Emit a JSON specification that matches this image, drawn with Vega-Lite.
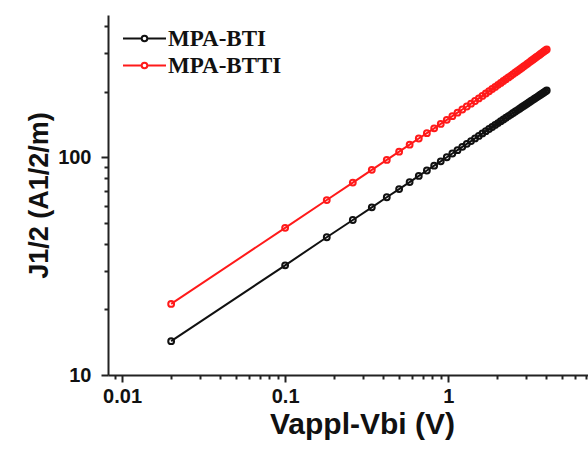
{
 "$schema": "https://vega.github.io/schema/vega-lite/v6.json",
 "width": 481,
 "height": 360,
 "padding": {"left": 25, "top": 15, "right": 0, "bottom": 5},
 "background": "white",
 "config": {"view": {"stroke": null}, "font": "Liberation Sans"},
 "datasets": {
  "bti": [
   {"s":"MPA-BTI","v":0.02,"j":14.3},{"s":"MPA-BTI","v":0.10,"j":31.9},{"s":"MPA-BTI","v":0.18,"j":42.9},{"s":"MPA-BTI","v":0.26,"j":51.5},{"s":"MPA-BTI","v":0.34,"j":58.9},{"s":"MPA-BTI","v":0.42,"j":65.5},{"s":"MPA-BTI","v":0.50,"j":71.4},{"s":"MPA-BTI","v":0.58,"j":76.9},{"s":"MPA-BTI","v":0.66,"j":82.1},{"s":"MPA-BTI","v":0.74,"j":86.9},
   {"s":"MPA-BTI","v":0.82,"j":91.5},{"s":"MPA-BTI","v":0.90,"j":95.8},{"s":"MPA-BTI","v":0.98,"j":100.0},{"s":"MPA-BTI","v":1.06,"j":104.0},{"s":"MPA-BTI","v":1.14,"j":107.8},{"s":"MPA-BTI","v":1.22,"j":111.6},{"s":"MPA-BTI","v":1.30,"j":115.2},{"s":"MPA-BTI","v":1.38,"j":118.6},{"s":"MPA-BTI","v":1.46,"j":122.0},{"s":"MPA-BTI","v":1.54,"j":125.3},
   {"s":"MPA-BTI","v":1.62,"j":128.6},{"s":"MPA-BTI","v":1.70,"j":131.7},{"s":"MPA-BTI","v":1.78,"j":134.8},{"s":"MPA-BTI","v":1.86,"j":137.7},{"s":"MPA-BTI","v":1.94,"j":140.7},{"s":"MPA-BTI","v":2.02,"j":143.5},{"s":"MPA-BTI","v":2.10,"j":146.4},{"s":"MPA-BTI","v":2.18,"j":149.1},{"s":"MPA-BTI","v":2.26,"j":151.8},{"s":"MPA-BTI","v":2.34,"j":154.5},
   {"s":"MPA-BTI","v":2.42,"j":157.1},{"s":"MPA-BTI","v":2.50,"j":159.7},{"s":"MPA-BTI","v":2.58,"j":162.2},{"s":"MPA-BTI","v":2.66,"j":164.7},{"s":"MPA-BTI","v":2.74,"j":167.2},{"s":"MPA-BTI","v":2.82,"j":169.6},{"s":"MPA-BTI","v":2.90,"j":172.0},{"s":"MPA-BTI","v":2.98,"j":174.4},{"s":"MPA-BTI","v":3.06,"j":176.7},{"s":"MPA-BTI","v":3.14,"j":179.0},
   {"s":"MPA-BTI","v":3.22,"j":181.2},{"s":"MPA-BTI","v":3.30,"j":183.5},{"s":"MPA-BTI","v":3.38,"j":185.7},{"s":"MPA-BTI","v":3.46,"j":187.9},{"s":"MPA-BTI","v":3.54,"j":190.0},{"s":"MPA-BTI","v":3.62,"j":192.2},{"s":"MPA-BTI","v":3.70,"j":194.3},{"s":"MPA-BTI","v":3.78,"j":196.4},{"s":"MPA-BTI","v":3.86,"j":198.4},{"s":"MPA-BTI","v":3.94,"j":200.5},
   {"s":"MPA-BTI","v":4.02,"j":202.5}
  ],
  "btti": [
   {"s":"MPA-BTTI","v":0.02,"j":21.2},{"s":"MPA-BTTI","v":0.10,"j":47.4},{"s":"MPA-BTTI","v":0.18,"j":63.6},{"s":"MPA-BTTI","v":0.26,"j":76.5},{"s":"MPA-BTTI","v":0.34,"j":87.5},{"s":"MPA-BTTI","v":0.42,"j":97.2},{"s":"MPA-BTTI","v":0.50,"j":106.1},{"s":"MPA-BTTI","v":0.58,"j":114.2},{"s":"MPA-BTTI","v":0.66,"j":121.9},{"s":"MPA-BTTI","v":0.74,"j":129.0},
   {"s":"MPA-BTTI","v":0.82,"j":135.8},{"s":"MPA-BTTI","v":0.90,"j":142.3},{"s":"MPA-BTTI","v":0.98,"j":148.5},{"s":"MPA-BTTI","v":1.06,"j":154.4},{"s":"MPA-BTTI","v":1.14,"j":160.2},{"s":"MPA-BTTI","v":1.22,"j":165.7},{"s":"MPA-BTTI","v":1.30,"j":171.0},{"s":"MPA-BTTI","v":1.38,"j":176.2},{"s":"MPA-BTTI","v":1.46,"j":181.2},{"s":"MPA-BTTI","v":1.54,"j":186.3},
   {"s":"MPA-BTTI","v":1.62,"j":191.3},{"s":"MPA-BTTI","v":1.70,"j":196.2},{"s":"MPA-BTTI","v":1.78,"j":201.0},{"s":"MPA-BTTI","v":1.86,"j":205.8},{"s":"MPA-BTTI","v":1.94,"j":210.4},{"s":"MPA-BTTI","v":2.02,"j":215.0},{"s":"MPA-BTTI","v":2.10,"j":219.5},{"s":"MPA-BTTI","v":2.18,"j":223.9},{"s":"MPA-BTTI","v":2.26,"j":228.3},{"s":"MPA-BTTI","v":2.34,"j":232.6},
   {"s":"MPA-BTTI","v":2.42,"j":236.7},{"s":"MPA-BTTI","v":2.50,"j":241.0},{"s":"MPA-BTTI","v":2.58,"j":245.1},{"s":"MPA-BTTI","v":2.66,"j":249.2},{"s":"MPA-BTTI","v":2.74,"j":253.2},{"s":"MPA-BTTI","v":2.82,"j":257.2},{"s":"MPA-BTTI","v":2.90,"j":261.1},{"s":"MPA-BTTI","v":2.98,"j":265.0},{"s":"MPA-BTTI","v":3.06,"j":269.0},{"s":"MPA-BTTI","v":3.14,"j":272.8},
   {"s":"MPA-BTTI","v":3.22,"j":276.6},{"s":"MPA-BTTI","v":3.30,"j":280.3},{"s":"MPA-BTTI","v":3.38,"j":284.1},{"s":"MPA-BTTI","v":3.46,"j":287.8},{"s":"MPA-BTTI","v":3.54,"j":291.4},{"s":"MPA-BTTI","v":3.62,"j":295.1},{"s":"MPA-BTTI","v":3.70,"j":298.7},{"s":"MPA-BTTI","v":3.78,"j":302.3},{"s":"MPA-BTTI","v":3.86,"j":305.8},{"s":"MPA-BTTI","v":3.94,"j":309.3},
   {"s":"MPA-BTTI","v":4.02,"j":312.8}
  ]
 },
 "layer": [
  {
   "data": {"name": "bti"},
   "mark": {"type": "line", "strokeWidth": 2, "color": "#111111"},
   "encoding": {
    "x": {"field": "v", "type": "quantitative"},
    "y": {"field": "j", "type": "quantitative"}
   }
  },
  {
   "data": {"name": "btti"},
   "mark": {"type": "line", "strokeWidth": 2, "color": "#ff1a1a"},
   "encoding": {
    "x": {"field": "v", "type": "quantitative"},
    "y": {"field": "j", "type": "quantitative"}
   }
  },
  {
   "data": {"name": "bti"},
   "mark": {"type": "point", "filled": false, "size": 34, "strokeWidth": 2, "opacity": 1},
   "encoding": {
    "x": {"field": "v", "type": "quantitative", "scale": {"type": "log", "domain": [0.0082, 7.3], "nice": false},
     "axis": {"title": "Vappl-Vbi (V)", "values": [0.009,0.01,0.02,0.03,0.04,0.05,0.06,0.07,0.08,0.09,0.1,0.2,0.3,0.4,0.5,0.6,0.7,0.8,0.9,1,2,3,4,5,6,7],
      "format": "~g", "labelExpr": "(datum.value == 0.01 || datum.value == 0.1 || datum.value == 1) ? datum.label : ''",
      "tickSize": {"condition": {"test": "datum.value == 0.01 || datum.value == 0.1 || datum.value == 1", "value": 7}, "value": 4},
      "grid": false, "domainColor": "#222222", "domainWidth": 2, "tickColor": "#222222", "tickWidth": 2,
      "labelFont": "Liberation Sans", "labelFontWeight": "bold", "labelFontSize": 20, "labelColor": "#111111", "labelPadding": 4, "labelFlush": false, "labelOverlap": false,
      "titleFont": "Liberation Sans", "titleFontWeight": "bold", "titleFontSize": 30, "titleColor": "#111111", "titlePadding": 3, "titleX": 254}},
    "y": {"field": "j", "type": "quantitative", "scale": {"type": "log", "domain": [10, 450], "nice": false},
     "axis": {"title": "J1/2 (A1/2/m)", "values": [10,20,30,40,50,60,70,80,90,100,200,300,400],
      "format": "~g", "labelExpr": "(datum.value == 10 || datum.value == 100) ? datum.label : ''",
      "tickSize": {"condition": {"test": "datum.value == 10 || datum.value == 100", "value": 7}, "value": 4},
      "grid": false, "domainColor": "#222222", "domainWidth": 2, "tickColor": "#222222", "tickWidth": 2,
      "labelFont": "Liberation Sans", "labelFontWeight": "bold", "labelFontSize": 20, "labelColor": "#111111", "labelPadding": 10, "labelFlush": false, "labelOverlap": false,
      "titleFont": "Liberation Sans", "titleFontWeight": "bold", "titleFontSize": 27, "titleColor": "#111111", "titlePadding": 4}},
    "color": {"field": "s", "type": "nominal", "scale": {"domain": ["MPA-BTI", "MPA-BTTI"], "range": ["#111111", "#ff1a1a"]},
     "legend": {"title": null, "orient": "none", "legendX": 25, "legendY": 12,
      "symbolType": "M -2.05 0 L -0.27 0 M 0.27 0 L 2.05 0 M -0.27 0 A 0.27 0.27 0 1 1 0.27 0 A 0.27 0.27 0 1 1 -0.27 0",
      "symbolSize": 441, "symbolStrokeWidth": 2, "symbolFillColor": "white",
      "labelFont": "Liberation Serif", "labelFontWeight": "bold", "labelFontSize": 23, "labelColor": "#111111", "labelOffset": 12, "rowPadding": 3}}
   }
  },
  {
   "data": {"name": "btti"},
   "mark": {"type": "point", "filled": false, "size": 34, "strokeWidth": 2, "opacity": 1},
   "encoding": {
    "x": {"field": "v", "type": "quantitative"},
    "y": {"field": "j", "type": "quantitative"},
    "color": {"field": "s", "type": "nominal"}
   }
  },
  {
   "mark": {"type": "rule", "color": "#222222", "strokeWidth": 2},
   "encoding": {"y": {"datum": 450}}
  }
 ]
}
